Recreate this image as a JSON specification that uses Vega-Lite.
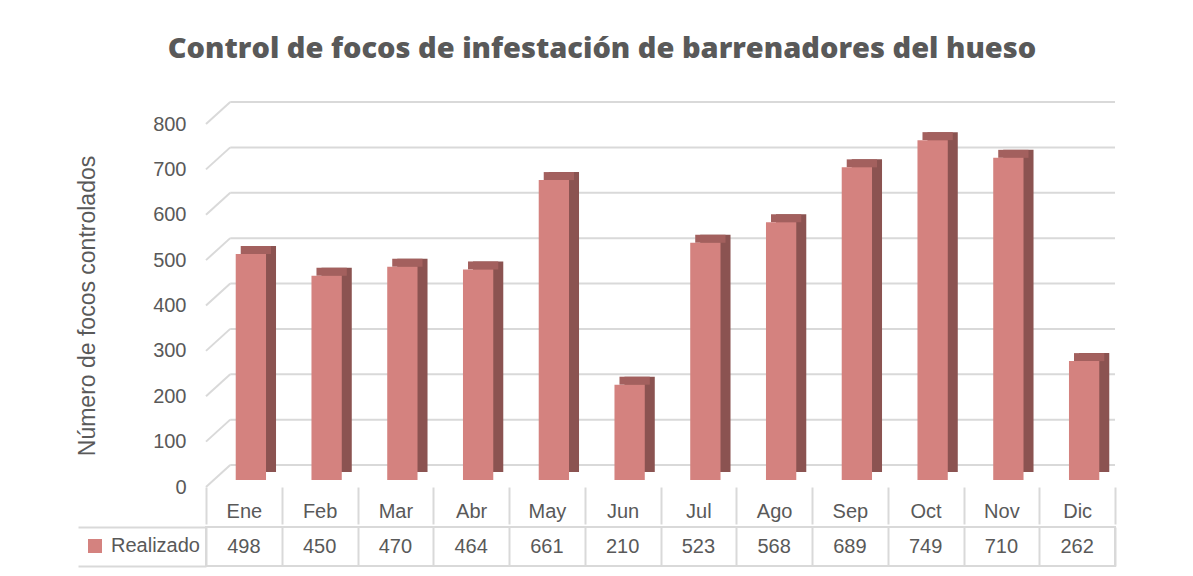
{
  "$schema": "https://vega.github.io/schema/vega-lite/v6.json",
  "background": "white",
  "padding": {"left": 76, "top": 35, "right": 14, "bottom": 5},
  "autosize": {"type": "pad"},
  "datasets": {
    "meses": [
      {"mes": "Ene", "serie": "Realizado", "valor": 498},
      {"mes": "Feb", "serie": "Realizado", "valor": 450},
      {"mes": "Mar", "serie": "Realizado", "valor": 470},
      {"mes": "Abr", "serie": "Realizado", "valor": 464},
      {"mes": "May", "serie": "Realizado", "valor": 661},
      {"mes": "Jun", "serie": "Realizado", "valor": 210},
      {"mes": "Jul", "serie": "Realizado", "valor": 523},
      {"mes": "Ago", "serie": "Realizado", "valor": 568},
      {"mes": "Sep", "serie": "Realizado", "valor": 689},
      {"mes": "Oct", "serie": "Realizado", "valor": 749},
      {"mes": "Nov", "serie": "Realizado", "valor": 710},
      {"mes": "Dic", "serie": "Realizado", "valor": 262}
    ],
    "grid": [
      {"v": 0}, {"v": 100}, {"v": 200}, {"v": 300}, {"v": 400},
      {"v": 500}, {"v": 600}, {"v": 700}, {"v": 800}
    ]
  },
  "title": {
    "text": "Control de focos de infestación de barrenadores del hueso",
    "font": "Open Sans",
    "fontSize": 29,
    "fontWeight": 800,
    "color": "#595959",
    "anchor": "middle",
    "dx": 6,
    "offset": 37
  },
  "config": {
    "view": {"stroke": null},
    "font": "Liberation Sans",
    "concat": {"spacing": 0}
  },
  "vconcat": [
    {
      "width": 909,
      "height": 363,
      "encoding": {
        "x": {
          "field": "mes",
          "type": "nominal",
          "scale": {"domain": ["Ene","Feb","Mar","Abr","May","Jun","Jul","Ago","Sep","Oct","Nov","Dic"], "paddingInner": 0, "paddingOuter": 0},
          "axis": {
            "title": null, "orient": "bottom", "domain": false, "ticks": true,
            "tickBand": "extent", "tickSize": 37, "tickColor": "#d9d9d9", "tickWidth": 2,
            "labelFontSize": 20, "labelColor": "#595959", "labelPadding": -23, "labelAngle": 0
          }
        }
      },
      "layer": [
        {
          "data": {"name": "grid"},
          "mark": {"type": "rule", "color": "#d9d9d9", "strokeWidth": 2, "yOffset": -22},
          "encoding": {
            "x": {"datum": "Ene", "type": "nominal", "bandPosition": 0.32},
            "x2": {"datum": "Dic", "bandPosition": 1},
            "y": {
              "field": "v", "type": "quantitative",
              "scale": {"domain": [0, 800]},
              "axis": {
                "title": "Número de focos controlados", "titleFontSize": 23, "titleColor": "#595959",
                "titleFontWeight": "normal", "titlePadding": 53,
                "values": [0,100,200,300,400,500,600,700,800],
                "domain": false, "ticks": false, "grid": false,
                "labelFontSize": 20, "labelColor": "#595959", "labelPadding": 20
              }
            }
          }
        },
        {
          "data": {"name": "grid"},
          "mark": {"type": "rule", "color": "#d9d9d9", "strokeWidth": 2, "y2Offset": -22},
          "encoding": {
            "x": {"datum": "Ene", "type": "nominal", "bandPosition": 0},
            "x2": {"datum": "Ene", "bandPosition": 0.32},
            "y": {"field": "v", "type": "quantitative"},
            "y2": {"field": "v"}
          }
        },
        {
          "data": {"name": "meses"},
          "mark": {"type": "bar", "color": "#8b5351", "width": {"band": 0.4}, "xOffset": 17, "yOffset": -15, "y2Offset": -15},
          "encoding": {
            "y": {"field": "valor", "type": "quantitative"},
            "y2": {"datum": 0}
          }
        },
        {
          "data": {"name": "meses"},
          "mark": {"type": "bar", "color": "#a3605e", "width": {"band": 0.4}, "xOffset": 12, "yOffset": -15, "y2Offset": -7},
          "encoding": {
            "y": {"field": "valor", "type": "quantitative"},
            "y2": {"field": "valor"}
          }
        },
        {
          "data": {"name": "meses"},
          "mark": {"type": "bar", "width": {"band": 0.4}, "xOffset": 7, "yOffset": -7, "y2Offset": -7},
          "encoding": {
            "y": {"field": "valor", "type": "quantitative"},
            "y2": {"datum": 0},
            "color": {
              "field": "serie", "type": "nominal",
              "scale": {"range": ["#d4827f"]},
              "legend": {
                "title": null, "orient": "none", "legendX": -121, "legendY": 412,
                "symbolType": "square", "symbolSize": 196, "symbolStrokeWidth": 0,
                "labelFontSize": 20, "labelColor": "#595959", "labelOffset": 6
              }
            }
          }
        }
      ]
    },
    {
      "width": 909,
      "height": 39,
      "view": {"stroke": "#d9d9d9", "strokeWidth": 2},
      "data": {"name": "meses"},
      "mark": {"type": "text", "fontSize": 20, "color": "#595959"},
      "encoding": {
        "x": {
          "field": "mes", "type": "nominal",
          "scale": {"domain": ["Ene","Feb","Mar","Abr","May","Jun","Jul","Ago","Sep","Oct","Nov","Dic"], "paddingInner": 0, "paddingOuter": 0},
          "axis": {"title": null, "labels": false, "ticks": false, "domain": false, "grid": true, "tickBand": "extent", "gridColor": "#d9d9d9", "gridWidth": 2}
        },
        "y": {
          "field": "serie", "type": "nominal",
          "axis": {"title": null, "labels": false, "domain": false, "ticks": true, "tickBand": "extent", "tickSize": 128, "tickColor": "#d9d9d9", "tickWidth": 2}
        },
        "text": {"field": "valor", "type": "quantitative"}
      }
    }
  ]
}
